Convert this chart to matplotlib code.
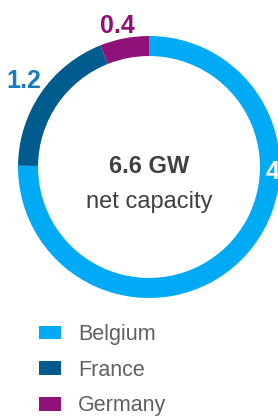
import matplotlib.pyplot as plt
from matplotlib.patches import Patch

plt.rcParams['font.family'] = ['Liberation Sans', 'DejaVu Sans']

countries = ['Belgium', 'France', 'Germany']
capacity_gw = [4.96, 1.24, 0.4]
value_labels = ['4.9', '1.2', '0.4']
colors = ['#00AAF5', '#005B8E', '#8E1278']
total_label = '6.6 GW'

W, H = 278, 417
fig = plt.figure(figsize=(W / 100, H / 100), dpi=100)

# ring centre (149, 167) px, outer radius 131 px
cx, cy, r = 149, 167, 131
ax = fig.add_axes([(cx - r) / W, (H - cy - r) / H, 2 * r / W, 2 * r / H])
ax.pie(capacity_gw, colors=colors, startangle=90, counterclock=False,
       radius=1, wedgeprops=dict(width=0.153, linewidth=0))
ax.set_xlim(-1, 1)
ax.set_ylim(-1, 1)
ax.axis('off')

# value labels
ax.text(0.893, -0.092, value_labels[0], color='white', fontsize=18,
        fontweight='bold', ha='left', va='baseline', clip_on=False)
ax.text(-0.954, 0.603, value_labels[1], color='#1A7BBF', fontsize=18,
        fontweight='bold', ha='center', va='baseline')
ax.text(-0.244, 1.023, value_labels[2], color=colors[2], fontsize=18,
        fontweight='bold', ha='center', va='baseline')

# centre text
ax.text(0, -0.046, total_label, color='#404040', fontsize=17,
        fontweight='bold', ha='center', va='baseline')
ax.text(0, -0.313, 'net capacity', color='#404040', fontsize=17,
        ha='center', va='baseline')

handles = [Patch(facecolor=c, edgecolor='none') for c in colors]
fig.legend(handles, countries, loc='upper left',
           bbox_to_anchor=(39 / W, (H - 324) / H), frameon=False,
           fontsize=15.5, labelcolor='#606060', handlelength=1.0,
           handleheight=0.6, handletextpad=0.8, labelspacing=0.68,
           borderpad=0, borderaxespad=0)

fig.savefig('out.png', dpi=100)
